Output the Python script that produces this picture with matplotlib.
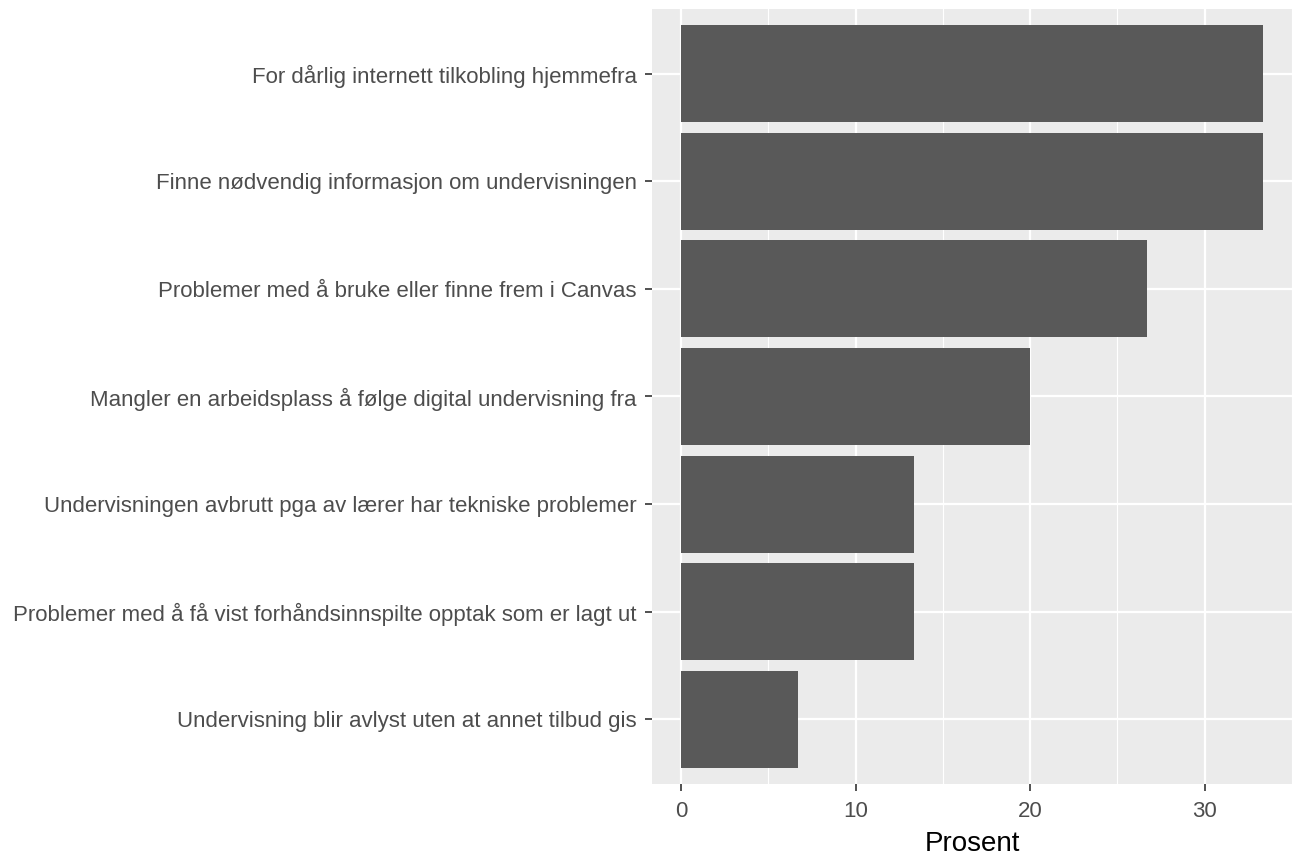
import matplotlib.pyplot as plt
import numpy as np

kategorier = [
    "Undervisning blir avlyst uten at annet tilbud gis",
    "Problemer med å få vist forhåndsinnspilte opptak som er lagt ut",
    "Undervisningen avbrutt pga av lærer har tekniske problemer",
    "Mangler en arbeidsplass å følge digital undervisning fra",
    "Problemer med å bruke eller finne frem i Canvas",
    "Finne nødvendig informasjon om undervisningen",
    "For dårlig internett tilkobling hjemmefra",
]
prosent = [6.67, 13.33, 13.33, 20.0, 26.67, 33.33, 33.33]
x_ticks = [0, 10, 20, 30]

plt.rcParams['font.family'] = ['Liberation Sans', 'DejaVu Sans']

fig = plt.figure(figsize=(12.92, 8.56), dpi=100)
ax = fig.add_axes([652/1292, 1 - 784/856, 1 - 652/1292, (784 - 9)/856])
ax.set_facecolor("#EBEBEB")

y = np.arange(1, len(kategorier) + 1)
ax.barh(y, prosent, height=0.9, color="#595959", zorder=3)

ax.set_xlim(-max(prosent)*0.05, max(prosent)*1.05)
ax.set_ylim(0.4, len(kategorier) + 0.6)

ax.set_xticks(x_ticks)
ax.set_xticks([5, 15, 25, 35], minor=True)
ax.set_yticks(y)
ax.set_yticklabels(kategorier)

ax.grid(which="major", color="white", linewidth=1.6, zorder=1)
ax.grid(which="minor", axis="x", color="white", linewidth=0.8, zorder=1)
ax.tick_params(which="minor", length=0)
ax.tick_params(which="major", length=5, width=1.2, color="#333333",
               labelcolor="#4D4D4D", labelsize=16, pad=6)
ax.tick_params(axis="x", pad=7)

for s in ax.spines.values():
    s.set_visible(False)

ax.set_xlabel("Prosent", fontsize=20, color="black", labelpad=7)

fig.savefig("out.png", dpi=100)
